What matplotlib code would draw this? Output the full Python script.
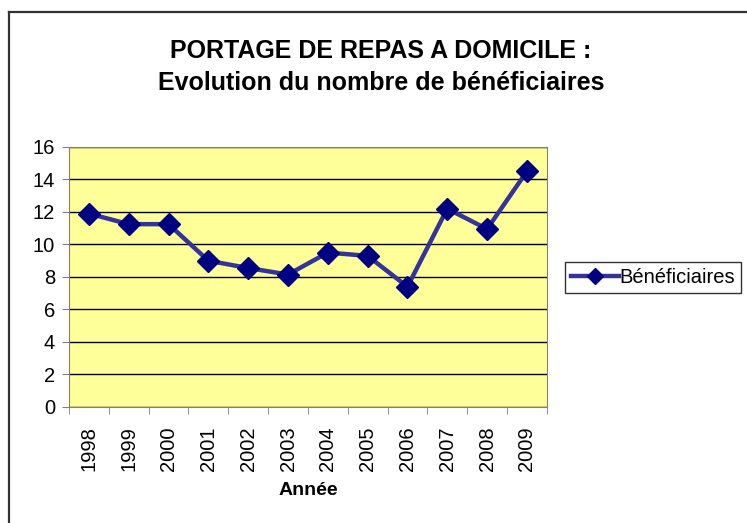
import matplotlib.pyplot as plt
import numpy as np
from matplotlib.lines import Line2D

plt.rcParams['font.family'] = ['Liberation Sans', 'DejaVu Sans']

# data
years = ['1998', '1999', '2000', '2001', '2002', '2003',
         '2004', '2005', '2006', '2007', '2008', '2009']
beneficiaires = [11.9, 11.25, 11.25, 9.0, 8.55, 8.15, 9.5, 9.3, 7.4, 12.2, 10.95, 14.5]

fig = plt.figure(figsize=(7.47, 5.23), dpi=100)
# chart frame, cut off on the right and bottom in the original
fx, fy = 8.5 / 747, 1 - 12 / 523
fig.add_artist(Line2D([fx, 1.0], [fy, fy], transform=fig.transFigure,
                      color='#333333', linewidth=1.6))
fig.add_artist(Line2D([fx, fx], [0.0, fy], transform=fig.transFigure,
                      color='#333333', linewidth=1.6))

ax = fig.add_axes([0.0924, 0.2218, 0.6396, 0.4972])
ax.set_facecolor('#FFFF99')

x = np.arange(len(years))
ax.plot(x, beneficiaires, color='#333399', linewidth=3.2, marker='D',
        markersize=11, markerfacecolor='#000080', markeredgecolor='#000080',
        label='Bénéficiaires', zorder=3)

ax.set_xlim(-0.5, len(years) - 0.5)
ax.set_ylim(0, 16)
ax.set_yticks(range(0, 17, 2))
ax.yaxis.grid(True, color='black', linewidth=1)
ax.set_axisbelow(True)

ax.set_xticks(x)
ax.set_xticklabels(years, rotation=90, fontsize=14.5)
ax.set_xticks(np.arange(-0.5, len(years)), minor=True)
ax.tick_params(axis='x', which='major', length=0, pad=14)
ax.tick_params(axis='x', which='minor', length=5, color='#808080')
ax.tick_params(axis='y', labelsize=14.5, length=5, color='#808080', pad=5)

for s in ax.spines.values():
    s.set_color('#808080')

ax.set_xlabel('Année', fontsize=14, fontweight='bold', labelpad=8)

fig.text(0.51, 0.903, 'PORTAGE DE REPAS A DOMICILE :', ha='center', va='center',
         fontsize=18, fontweight='bold')
fig.text(0.51, 0.842, 'Evolution du nombre de bénéficiaires', ha='center', va='center',
         fontsize=18, fontweight='bold')

leg = ax.legend(loc='upper left', bbox_to_anchor=(1.038, 0.558), borderaxespad=0,
                fontsize=14.5, frameon=True, fancybox=False, edgecolor='black',
                handlelength=2.4, borderpad=0.3, handletextpad=0.0, markerscale=0.75)
leg.get_frame().set_linewidth(1)

fig.savefig('out.png', dpi=100)
